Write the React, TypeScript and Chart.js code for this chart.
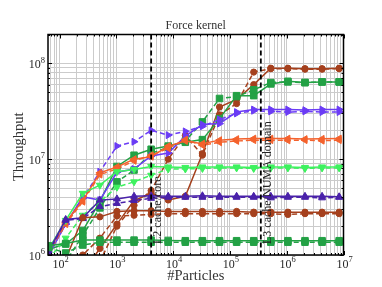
import React, { useEffect, useRef } from 'react';
import { Chart, registerables } from 'chart.js';
Chart.register(...registerables);

const particles = [64, 128, 256, 512, 1024, 2048, 4096, 8192, 16384, 32768, 65536, 131072, 262144, 524288, 1048576, 2097152, 4194304, 8388608];

const brownHighSolid = [2.0e5, 3.5e5, 6.5e5, 1.17e6, 2.1e6, 3.7e6, 4.4e6, 3.75e6, 4.1e6, 1.14e7, 3.5e7, 4.2e7, 6.0e7, 8.9e7, 8.9e7, 8.8e7, 8.8e7, 8.9e7];
const brownHighDashed = [1.5e5, 2.5e5, 4.5e5, 8.5e5, 2.0e6, 3.3e6, 4.7e6, 1.0e7, 1.77e7, 1.1e7, 2.9e7, 3.8e7, 8.1e7, 8.8e7, 8.8e7, 8.7e7, 8.7e7, 8.8e7];
const greenHighSolid = [1.15e6, 1.3e6, 1.8e6, 3.6e6, 8.4e6, 1.1e7, 1.27e7, 1.37e7, 1.5e7, 1.6e7, 2.65e7, 4.6e7, 4.6e7, 6.1e7, 6.5e7, 6.3e7, 6.4e7, 6.4e7];
const greenHighDashed = [7.0e5, 8.5e5, 1.6e6, 3.1e6, 5.8e6, 7.7e6, 1.15e7, 1.33e7, 1.55e7, 2.45e7, 4.3e7, 4.5e7, 5.3e7, 6.3e7, 6.4e7, 6.3e7, 6.4e7, 6.4e7];
const purpleSolid = [1.0e6, 2.1e6, 4.05e6, 3.74e6, 7.3e6, 7.9e6, 1.08e7, 1.16e7, 1.74e7, 2.3e7, 2.35e7, 3.1e7, 3.3e7, 3.3e7, 3.3e7, 3.25e7, 3.3e7, 3.3e7];
const purpleDashed = [1.0e6, 2.1e6, 3.9e6, 7.4e6, 1.37e7, 1.52e7, 2.0e7, 1.78e7, 1.95e7, 2.2e7, 2.6e7, 3.0e7, 3.2e7, 3.15e7, 3.1e7, 3.15e7, 3.1e7, 3.1e7];
const orangeSolid = [1.1e6, 2.2e6, 3.7e6, 7.2e6, 8.3e6, 1.0e7, 1.06e7, 1.37e7, 1.55e7, 1.45e7, 1.58e7, 1.62e7, 1.64e7, 1.64e7, 1.64e7, 1.62e7, 1.63e7, 1.64e7];
const orangeDashed = [1.05e6, 2.1e6, 3.6e6, 6.9e6, 7.9e6, 9.6e6, 1.1e7, 1.3e7, 1.6e7, 1.4e7, 1.5e7, 1.55e7, 1.58e7, 1.58e7, 1.57e7, 1.58e7, 1.56e7, 1.58e7];
const lightGreenSolid = [1.15e6, 2.3e6, 4.4e6, 5.35e6, 7.4e6, 7.8e6, 8.4e6, 8.3e6, 8.2e6, 8.3e6, 8.3e6, 8.3e6, 8.2e6, 8.3e6, 8.3e6, 8.2e6, 8.3e6, 8.3e6];
const lightGreenDashed = [9.0e5, 1.5e6, 2.6e6, 3.6e6, 5.1e6, 5.8e6, 6.8e6, 7.9e6, 7.9e6, 8.0e6, 8.1e6, 8.1e6, 8.0e6, 8.1e6, 8.1e6, 8.0e6, 8.1e6, 8.1e6];
const darkPurpleSolid = [1.1e6, 2.35e6, 2.45e6, 3.74e6, 3.85e6, 4.1e6, 4.15e6, 4.1e6, 4.1e6, 4.15e6, 4.1e6, 4.1e6, 4.1e6, 4.1e6, 4.1e6, 4.1e6, 4.1e6, 4.05e6];
const darkPurpleDashed = [1.05e6, 2.3e6, 2.4e6, 3.2e6, 3.45e6, 3.7e6, 3.9e6, 4.0e6, 4.0e6, 4.0e6, 4.0e6, 4.0e6, 4.0e6, 3.95e6, 4.0e6, 4.0e6, 3.95e6, 4.0e6];
const brownLowSolid = [5.0e5, 9.0e5, 2.45e6, 2.5e6, 2.85e6, 2.9e6, 2.9e6, 2.85e6, 2.85e6, 2.85e6, 2.85e6, 2.85e6, 2.8e6, 2.8e6, 2.8e6, 2.8e6, 2.8e6, 2.8e6];
const brownLowDashed = [3.0e5, 6.0e5, 1.0e6, 1.5e6, 2.55e6, 2.6e6, 2.65e6, 2.7e6, 2.7e6, 2.7e6, 2.7e6, 2.7e6, 2.7e6, 2.7e6, 2.65e6, 2.7e6, 2.7e6, 2.7e6];
const greenLowSolid = [1.25e6, 1.32e6, 1.43e6, 1.43e6, 1.43e6, 1.43e6, 1.43e6, 1.42e6, 1.41e6, 1.41e6, 1.41e6, 1.41e6, 1.41e6, 1.41e6, 1.41e6, 1.41e6, 1.41e6, 1.41e6];
const greenLowDashed = [1.2e6, 1.05e6, 1.27e6, 1.36e6, 1.36e6, 1.36e6, 1.36e6, 1.36e6, 1.36e6, 1.36e6, 1.36e6, 1.36e6, 1.36e6, 1.36e6, 1.36e6, 1.36e6, 1.36e6, 1.36e6];

const xTickExponents = [2, 3, 4, 5, 6, 7];
const yTickExponents = [6, 7, 8];
const cacheLines = [4096, 350000];
const cacheLabels = ['L2 cache/core', 'L3 cache/NUMA domain'];

const X_MIN = 62.5, X_MAX = 1e7, Y_MIN = 1e6, Y_MAX = 2e8;
const SERIF = '"Liberation Serif", "Times New Roman", serif';

const BROWN = '#a5401d', GREEN = '#23a145', PURPLE = '#6b3cf5', ORANGE = '#f4622d', LGREEN = '#3ef25f', DPURPLE = '#4a22aa';

const seriesDefs = [
  { data: greenLowDashed, color: GREEN, style: 'rect', rot: 0, r: 4.6, dashed: true },
  { data: greenLowSolid, color: GREEN, style: 'rect', rot: 0, r: 4.6, dashed: false },
  { data: brownLowDashed, color: BROWN, style: 'circle', rot: 0, r: 3.1, dashed: true },
  { data: brownLowSolid, color: BROWN, style: 'circle', rot: 0, r: 3.1, dashed: false },
  { data: darkPurpleDashed, color: DPURPLE, style: 'triangle', rot: 0, r: 4, dashed: true },
  { data: darkPurpleSolid, color: DPURPLE, style: 'triangle', rot: 0, r: 4, dashed: false },
  { data: lightGreenDashed, color: LGREEN, style: 'triangle', rot: 180, r: 4, dashed: true },
  { data: lightGreenSolid, color: LGREEN, style: 'triangle', rot: 180, r: 4, dashed: false },
  { data: orangeDashed, color: ORANGE, style: 'triangle', rot: 270, r: 4, dashed: true },
  { data: orangeSolid, color: ORANGE, style: 'triangle', rot: 270, r: 4, dashed: false },
  { data: purpleDashed, color: PURPLE, style: 'triangle', rot: 90, r: 4, dashed: true },
  { data: purpleSolid, color: PURPLE, style: 'triangle', rot: 90, r: 4, dashed: false },
  { data: greenHighDashed, color: GREEN, style: 'rect', rot: 0, r: 4.6, dashed: true },
  { data: greenHighSolid, color: GREEN, style: 'rect', rot: 0, r: 4.6, dashed: false },
  { data: brownHighDashed, color: BROWN, style: 'circle', rot: 0, r: 3.1, dashed: true },
  { data: brownHighSolid, color: BROWN, style: 'circle', rot: 0, r: 3.1, dashed: false },
];

function logTicks(min: number, max: number) {
  const out: number[] = [];
  for (let e = Math.floor(Math.log10(min)); e <= Math.ceil(Math.log10(max)); e++) {
    for (let m = 1; m <= 9; m++) {
      const v = m * Math.pow(10, e);
      if (v >= min * 0.9999 && v <= max * 1.0001) out.push(v);
    }
  }
  return out;
}

function drawPow(ctx: CanvasRenderingContext2D, exp: number, x: number, y: number, align: 'center' | 'right') {
  ctx.font = `12px ${SERIF}`;
  const w1 = ctx.measureText('10').width;
  ctx.font = `8.5px ${SERIF}`;
  const w2 = ctx.measureText(String(exp)).width;
  const total = w1 + w2;
  const left = align === 'center' ? x - total / 2 : x - total;
  ctx.textAlign = 'left';
  ctx.textBaseline = 'alphabetic';
  ctx.font = `12px ${SERIF}`;
  ctx.fillText('10', left, y);
  ctx.font = `8.5px ${SERIF}`;
  ctx.fillText(String(exp), left + w1, y - 5.5);
}

const decor = {
  id: 'decor',
  afterDatasetsDraw(chart: any) {
    const { ctx, chartArea: a, scales } = chart;
    const xs = scales.x, ys = scales.y;
    ctx.save();
    // cache lines + labels
    cacheLines.forEach((v, i) => {
      const px = xs.getPixelForValue(v);
      ctx.beginPath();
      ctx.setLineDash([5, 3]);
      ctx.lineWidth = 1.8;
      ctx.strokeStyle = '#000';
      ctx.moveTo(px, a.top);
      ctx.lineTo(px, a.bottom);
      ctx.stroke();
      ctx.setLineDash([]);
      ctx.save();
      ctx.translate(px + 1, a.bottom - 11);
      ctx.rotate(-Math.PI / 2);
      ctx.font = `12px ${SERIF}`;
      ctx.fillStyle = '#222';
      ctx.textAlign = 'left';
      ctx.textBaseline = 'top';
      ctx.fillText(cacheLabels[i], 0, 0);
      ctx.restore();
    });
    // frame
    ctx.lineWidth = 1.5;
    ctx.strokeStyle = '#000';
    ctx.strokeRect(a.left, a.top, a.right - a.left, a.bottom - a.top);
    // inward ticks
    ctx.lineWidth = 1;
    ctx.beginPath();
    logTicks(X_MIN, X_MAX).forEach((v) => {
      const px = Math.round(xs.getPixelForValue(v)) + 0.5;
      const len = Math.abs(Math.log10(v) - Math.round(Math.log10(v))) < 1e-9 ? 4 : 2;
      ctx.moveTo(px, a.bottom); ctx.lineTo(px, a.bottom - len);
      ctx.moveTo(px, a.top); ctx.lineTo(px, a.top + len);
    });
    logTicks(Y_MIN, Y_MAX).forEach((v) => {
      const py = Math.round(ys.getPixelForValue(v)) + 0.5;
      const len = Math.abs(Math.log10(v) - Math.round(Math.log10(v))) < 1e-9 ? 4 : 2;
      ctx.moveTo(a.left, py); ctx.lineTo(a.left + len, py);
      ctx.moveTo(a.right, py); ctx.lineTo(a.right - len, py);
    });
    ctx.stroke();
    // tick labels
    ctx.fillStyle = '#262626';
    xTickExponents.forEach((e) => {
      drawPow(ctx, e, xs.getPixelForValue(Math.pow(10, e)) + 1, 267.5, 'center');
    });
    yTickExponents.forEach((e) => {
      drawPow(ctx, e, a.left - 3, ys.getPixelForValue(Math.pow(10, e)) + 4.7, 'right');
    });
    // titles
    const cx = (a.left + a.right) / 2;
    ctx.fillStyle = '#333';
    ctx.textAlign = 'center';
    ctx.textBaseline = 'alphabetic';
    ctx.font = `12px ${SERIF}`;
    ctx.fillText('Force kernel', cx, 28.5);
    ctx.font = `14.5px ${SERIF}`;
    ctx.fillText('#Particles', cx, 280);
    ctx.save();
    ctx.translate(23, (a.top + a.bottom) / 2 + 2);
    ctx.rotate(-Math.PI / 2);
    ctx.font = `14.5px ${SERIF}`;
    ctx.fillText('Throughput', 0, 0);
    ctx.restore();
    ctx.restore();
  },
};

export default function App() {
  const ref = useRef<HTMLCanvasElement>(null);
  useEffect(() => {
    const datasets = seriesDefs.map((s) => ({
      data: s.data.map((v, i) => ({ x: particles[i], y: v })),
      borderColor: s.color,
      backgroundColor: s.color,
      borderWidth: 1.5,
      borderDash: s.dashed ? [5, 3] : [],
      pointStyle: s.style,
      pointRotation: s.rot,
      pointRadius: s.r,
      pointBorderWidth: 1,
      pointBackgroundColor: s.color,
      pointBorderColor: s.color,
      tension: 0,
      fill: false,
    }));
    const gridOpts = { color: '#cbcbcb', lineWidth: 1, drawTicks: false };
    const chart = new Chart(ref.current as HTMLCanvasElement, {
      type: 'line',
      data: { datasets } as any,
      plugins: [decor],
      options: {
        responsive: false,
        devicePixelRatio: 1,
        animation: false,
        events: [],
        layout: { padding: { top: 34.5, right: 38.5, left: 0, bottom: 0 } },
        plugins: { legend: { display: false }, tooltip: { enabled: false }, title: { display: false } },
        scales: {
          x: {
            type: 'logarithmic',
            min: X_MIN,
            max: X_MAX,
            grid: gridOpts,
            border: { display: false },
            ticks: { display: false },
            afterBuildTicks: (s: any) => { s.ticks = logTicks(X_MIN, X_MAX).map((v) => ({ value: v })); },
            afterFit: (s: any) => { s.height = 32; },
          },
          y: {
            type: 'logarithmic',
            min: Y_MIN,
            max: Y_MAX,
            grid: gridOpts,
            border: { display: false },
            ticks: { display: false },
            afterBuildTicks: (s: any) => { s.ticks = logTicks(Y_MIN, Y_MAX).map((v) => ({ value: v })); },
            afterFit: (s: any) => { s.width = 48; },
          },
        },
      } as any,
    });
    return () => chart.destroy();
  }, []);
  return (
    <div style={{ position: 'absolute', left: 0, top: 0, width: 382, height: 287, background: '#fff' }}>
      <canvas ref={ref} width={382} height={287} style={{ width: 382, height: 287, display: 'block' }} />
    </div>
  );
}
